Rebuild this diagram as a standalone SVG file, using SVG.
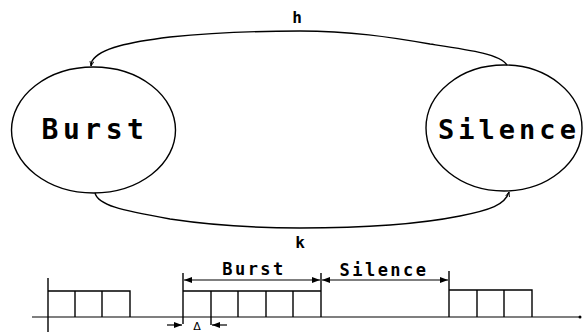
<svg xmlns="http://www.w3.org/2000/svg" width="583" height="335" viewBox="0 0 583 335">
<style>
.ln{fill:none;stroke:#000;stroke-width:1.4}
.th{fill:none;stroke:#000;stroke-width:1.2}
.big{font-family:"DejaVu Sans Mono","Liberation Mono",monospace;font-weight:bold;font-size:28px;letter-spacing:4.5px;fill:#000}
.big2{font-family:"DejaVu Sans Mono","Liberation Mono",monospace;font-weight:bold;font-size:27px;letter-spacing:4px;fill:#000}
.sm{font-family:"DejaVu Sans Mono","Liberation Mono",monospace;font-weight:bold;font-size:17px;letter-spacing:2.5px;fill:#000}
.lbl{font-family:"DejaVu Sans Mono","Liberation Mono",monospace;font-weight:bold;font-size:16px;fill:#000}
.dl{font-family:"DejaVu Sans","Liberation Sans",sans-serif;font-size:11px;fill:#000}
</style>
<defs>
<marker id="ah" viewBox="0 0 8 6" refX="8" refY="3" markerWidth="8" markerHeight="6" markerUnits="userSpaceOnUse" orient="auto">
<path d="M0,0 L8,3 L0,6 z" fill="#000"/>
</marker>
<marker id="tip" viewBox="0 0 6 6" refX="6" refY="3" markerWidth="5" markerHeight="5" markerUnits="userSpaceOnUse" orient="auto">
<path d="M0,0.5 L6,3 L0,5.5" fill="none" stroke="#000" stroke-width="1"/>
</marker>
</defs>
<rect width="583" height="335" fill="#fff"/>
<g id="burst">
<ellipse cx="93.5" cy="130" rx="82" ry="63" class="ln"/>
<text x="95" y="139" text-anchor="middle" class="big">Burst</text>
</g>
<g id="silence">
<ellipse cx="504" cy="128" rx="78" ry="63" class="ln"/>
<text x="509" y="139" text-anchor="middle" class="big2">Silence</text>
</g>
<g id="connectors">
<path d="M507 65 C500 54, 470 50, 430 44 C390 37, 350 31, 300 31 C260 31, 220 32, 170 37 C130 42, 100 48, 92 61 L91 66" class="ln" marker-end="url(#tip)"/>
<path d="M95 193 C98 205, 120 210, 170 219 C210 225, 260 228, 300 228 C360 228, 420 224, 460 216 C490 210, 505 205, 509 192" class="ln" marker-end="url(#tip)"/>
<text x="297" y="23" text-anchor="middle" class="lbl">h</text>
<text x="300" y="248" text-anchor="middle" class="lbl">k</text>
</g>
<g id="timeline">
<line x1="32" y1="317" x2="580" y2="317" class="th"/>
<circle cx="580" cy="317" r="1.5" fill="#000"/>
<line x1="48" y1="278" x2="48" y2="332" class="ln"/>
<path d="M48 291 H130 V317 M75 291 V317 M102 291 V317" class="ln"/>
<line x1="183" y1="273" x2="183" y2="324" class="ln"/>
<line x1="211" y1="291" x2="211" y2="325" class="ln"/>
<path d="M183 291 H321 M238 291 V317 M266 291 V317 M293 291 V317" class="ln"/>
<line x1="321" y1="273" x2="321" y2="317" class="ln"/>
<line x1="449" y1="271" x2="449" y2="317" class="ln"/>
<path d="M449 290 H532 V317 M477 290 V317 M504 290 V317" class="ln"/>
<line x1="252" y1="280" x2="184" y2="280" class="th" marker-end="url(#ah)"/>
<line x1="252" y1="280" x2="320" y2="280" class="th" marker-end="url(#ah)"/>
<line x1="385" y1="280" x2="322" y2="280" class="th" marker-end="url(#ah)"/>
<line x1="385" y1="280" x2="448" y2="280" class="th" marker-end="url(#ah)"/>
<text x="254" y="275" text-anchor="middle" class="sm">Burst</text>
<text x="384" y="276" text-anchor="middle" class="sm">Silence</text>
<line x1="167" y1="325" x2="182" y2="325" class="th" marker-end="url(#ah)"/>
<line x1="227" y1="325" x2="212" y2="325" class="th" marker-end="url(#ah)"/>
<text x="197" y="330" text-anchor="middle" class="dl">Δ</text>
</g>
</svg>
